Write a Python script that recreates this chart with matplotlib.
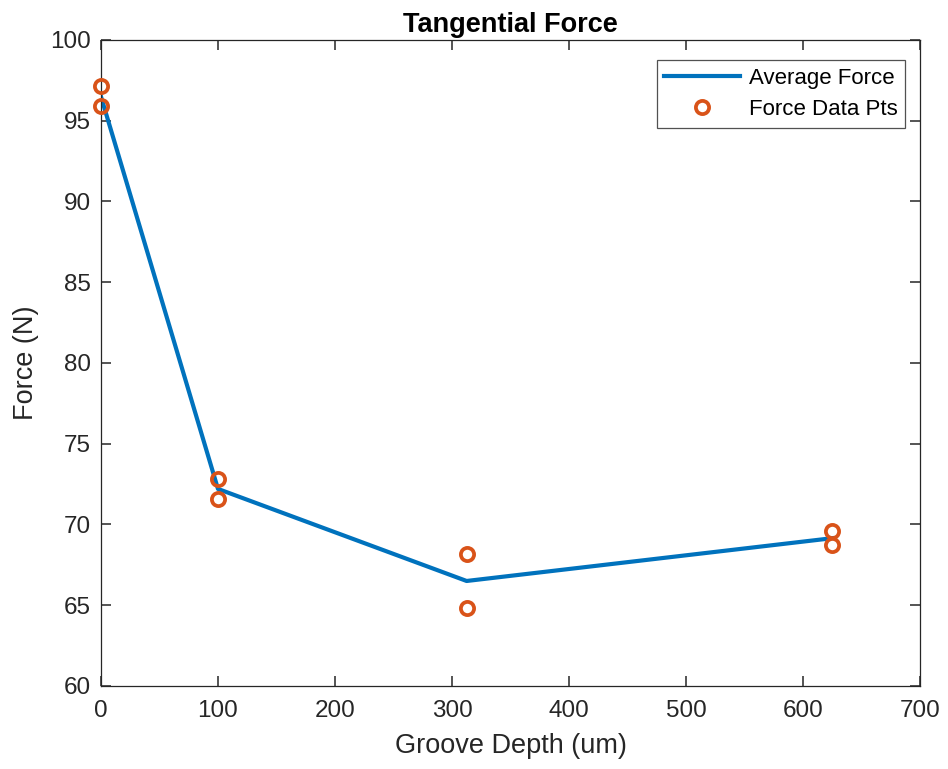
import numpy as np
import matplotlib.pyplot as plt

plt.rcParams['font.family'] = ['Liberation Sans', 'DejaVu Sans']

depth = [0, 100, 312.5, 625]
avg_force = [96.5, 72.2, 66.5, 69.15]
pts_depth = [0, 0, 100, 100, 312.5, 312.5, 625, 625]
pts_force = [97.15, 95.9, 72.8, 71.55, 68.2, 64.8, 69.6, 68.75]

blue = '#0072BD'
orange = '#D95319'
grey = '#262626'

fig = plt.figure(figsize=(9.48, 7.69), dpi=100)
ax = fig.add_axes([0.1065, 0.108, 0.864, 0.84])

ax.plot(depth, avg_force, '-', color=blue, lw=3, label='Average Force')
ax.plot(pts_depth, pts_force, 'o', mfc='none', mec=orange, mew=2.7, ms=9.5,
        label='Force Data Pts', zorder=3, clip_on=False)

ax.set_xlim(0, 700)
ax.set_ylim(60, 100)
ax.set_xticks(np.arange(0, 701, 100))
ax.set_yticks(np.arange(60, 101, 5))
ax.tick_params(direction='in', top=True, right=True, length=7, width=1.1,
               colors=grey, labelsize=17.5)
ax.tick_params(axis='x', pad=10)
ax.tick_params(axis='y', pad=7)
for s in ax.spines.values():
    s.set_color(grey)
    s.set_linewidth(0.9)

ax.set_xlabel('Groove Depth (um)', fontsize=19.5, color=grey, labelpad=8)
ax.set_ylabel('Force (N)', fontsize=19.5, color=grey, labelpad=8)
ax.set_title('Tangential Force', fontsize=19.5, fontweight='bold', pad=6)

leg = ax.legend(loc='upper right', bbox_to_anchor=(0.982, 0.969), fontsize=16,
                frameon=True, fancybox=False, edgecolor=grey, handlelength=3.4,
                handletextpad=0.4, borderaxespad=0, borderpad=0.35,
                labelspacing=0.45)
leg.get_frame().set_linewidth(0.9)

fig.savefig('out.png', dpi=100)
